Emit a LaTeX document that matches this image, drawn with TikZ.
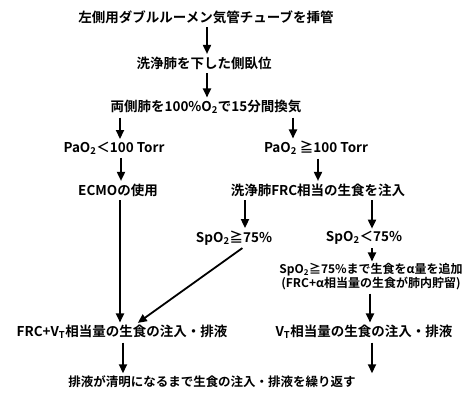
\documentclass[tikz,border=0pt]{standalone}
\usepackage{fontspec}
\setmainfont{Noto Sans CJK JP}[BoldFont={Noto Sans CJK JP Bold}]
\usetikzlibrary{arrows.meta,calc}
\tikzset{
  txt/.style={inner sep=1.5pt, font=\fontsize{13.5}{15}\selectfont\bfseries, text=black},
  small/.style={font=\fontsize{12}{14}\selectfont\bfseries},
  arr/.style={line width=1.8pt, -{Triangle[length=9pt,width=8pt]}, shorten >=1pt, shorten <=2pt},
}
\begin{document}
\begin{tikzpicture}[x=1pt,y=-1pt]
\useasboundingbox[fill=white] (0,0) rectangle (469,397);
\node[txt] (a) at (206,17) {左側用ダブルルーメン気管チューブを挿管};
\node[txt] (b) at (204,63) {洗浄肺を下した側臥位};
\node[txt] (c) at (206,107) {両側肺を100\%O\textsubscript{2}で15分間換気};
\node[txt] (pl) at (114,148) {PaO\textsubscript{2}＜100 Torr};
\node[txt] (pr) at (316,148) {PaO\textsubscript{2} ≧100 Torr};
\node[txt] (ecmo) at (118,190) {ECMOの使用};
\node[txt] (wash) at (318,190) {洗浄肺FRC相当の生食を注入};
\node[txt] (s1) at (234,238) {SpO\textsubscript{2}≧75\%};
\node[txt] (s2) at (364,238) {SpO\textsubscript{2}＜75\%};
\node[txt, small, align=center, inner sep=1pt] (add) at (371,277) {SpO\textsubscript{2}≧75\%まで生食をα量を追加\\(FRC+α相当量の生食が肺内貯留)};
\node[txt] (fv) at (122,332) {FRC+V\textsubscript{T}相当量の生食の注入・排液};
\node[txt] (vt) at (364,332) {V\textsubscript{T}相当量の生食の注入・排液};
\node[txt, font=\fontsize{12.5}{14}\selectfont\bfseries] (fin) at (212,382) {排液が清明になるまで生食の注入・排液を繰り返す};
\draw[arr] (a.south -| 207,0) -- (b.north -| 207,0);
\draw[arr] (b.south -| 207,0) -- (c.north -| 207,0);
\draw[arr] (c.south -| 120,0) -- (pl.north -| 120,0);
\draw[arr] (c.south -| 293,0) -- (pr.north -| 293,0);
\draw[arr] (pl.south -| 121,0) -- (ecmo.north -| 121,0);
\draw[arr] (pr.south -| 318,0) -- (wash.north -| 318,0);
\draw[arr] (ecmo.south -| 120,0) -- (fv.north -| 120,0);
\draw[arr] (wash.south -| 245,0) -- (s1.north -| 245,0);
\draw[arr] (wash.south -| 372,0) -- (s2.north -| 372,0);
\draw[arr] (s1.south -| 244,0) -- (fv.north -| 137,0);
\draw[arr] (s2.south -| 372,0) -- (add.north -| 372,0);
\draw[arr] (add.south -| 370,0) -- (vt.north -| 370,0);
\draw[arr] (fv.south -| 123,0) -- (fin.north -| 123,0);
\draw[arr] (vt.south -| 372,0) -- (fin.north -| 372,0);
\end{tikzpicture}
\end{document}
